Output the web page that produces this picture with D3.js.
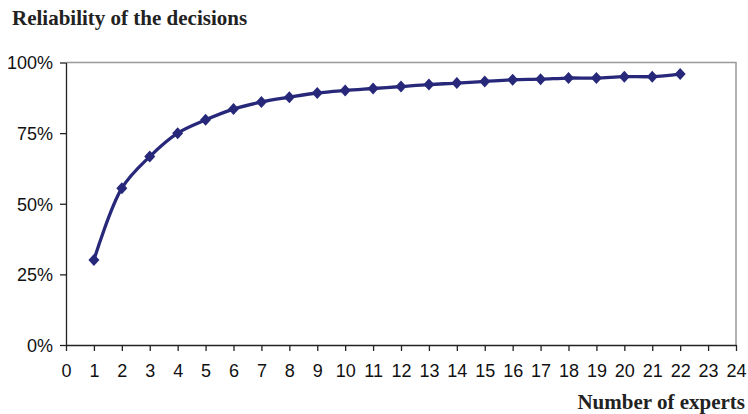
<!DOCTYPE html>
<html lang="en">
<head>
<meta charset="UTF-8">
<title>Reliability of the decisions</title>
<script src="https://d3js.org/d3.v7.min.js"></script>
<style>
  body { margin: 0; background: #fff; }
  .tick text { font-family: "Liberation Sans Narrow", "Arial Narrow", Arial, sans-serif; font-size: 18px; fill: #111; }
  .ttl { font-family: "Liberation Serif", "Times New Roman", serif; font-weight: bold; font-size: 21px; fill: #222; }
</style>
</head>
<body>
<div id="chart"></div>
<script>
const experts = d3.range(1, 23);
const reliability = [30.1, 55.5, 66.7, 75.0, 79.7, 83.5, 86.0, 87.7, 89.2, 90.1, 90.8,
  91.5, 92.2, 92.7, 93.3, 93.9, 94.1, 94.5, 94.5, 95.0, 95.0, 95.9];
const xTicks = d3.range(0, 25);
const yTicks = [0, 25, 50, 75, 100];

const width = 748, height = 414;
const margin = {top: 62.5, right: 12, bottom: 69, left: 66};

const svg = d3.select("#chart").append("svg")
  .attr("width", width)
  .attr("height", height);

const x = d3.scaleLinear().domain([0, 24]).range([margin.left, width - margin.right]);
const y = d3.scaleLinear().domain([0, 100]).range([height - margin.bottom, margin.top]);

// plot frame (top and right in grey)
svg.append("path")
  .attr("d", `M${x(0)},${y(100)}H${x(24)}V${y(0)}`)
  .attr("fill", "none")
  .attr("stroke", "#999")
  .attr("stroke-width", 1.5);

svg.append("g")
  .attr("transform", `translate(0,${y(0)})`)
  .call(d3.axisBottom(x).tickValues(xTicks).tickSize(6).tickPadding(13).tickSizeOuter(0))
  .call(g => g.selectAll("path, line").attr("stroke", "#222").attr("stroke-width", 1.3));

svg.append("g")
  .attr("transform", `translate(${x(0)},0)`)
  .call(d3.axisLeft(y).tickValues(yTicks).tickFormat(d => d + "%").tickSize(6).tickPadding(7).tickSizeOuter(0))
  .call(g => g.selectAll("path, line").attr("stroke", "#222").attr("stroke-width", 1.3))
  .call(g => g.selectAll("text").attr("dy", "0.36em"));

const pts = experts.map((e, i) => [e, reliability[i]]);

svg.append("path")
  .datum(pts)
  .attr("fill", "none")
  .attr("stroke", "#27287a")
  .attr("stroke-width", 3.3)
  .attr("d", d3.line().x(d => x(d[0])).y(d => y(d[1])).curve(d3.curveCatmullRom.alpha(0.5)));

svg.selectAll(".mark")
  .data(pts)
  .enter()
  .append("path")
  .attr("class", "mark")
  .attr("transform", d => `translate(${x(d[0])},${y(d[1])})`)
  .attr("d", "M0,-6L5.5,0L0,6L-5.5,0Z")
  .attr("fill", "#27287a");

svg.append("text").attr("class", "ttl")
  .attr("x", 12).attr("y", 25)
  .text("Reliability of the decisions");

svg.append("text").attr("class", "ttl")
  .attr("x", 745).attr("y", 409)
  .attr("text-anchor", "end")
  .text("Number of experts");
</script>
</body>
</html>
